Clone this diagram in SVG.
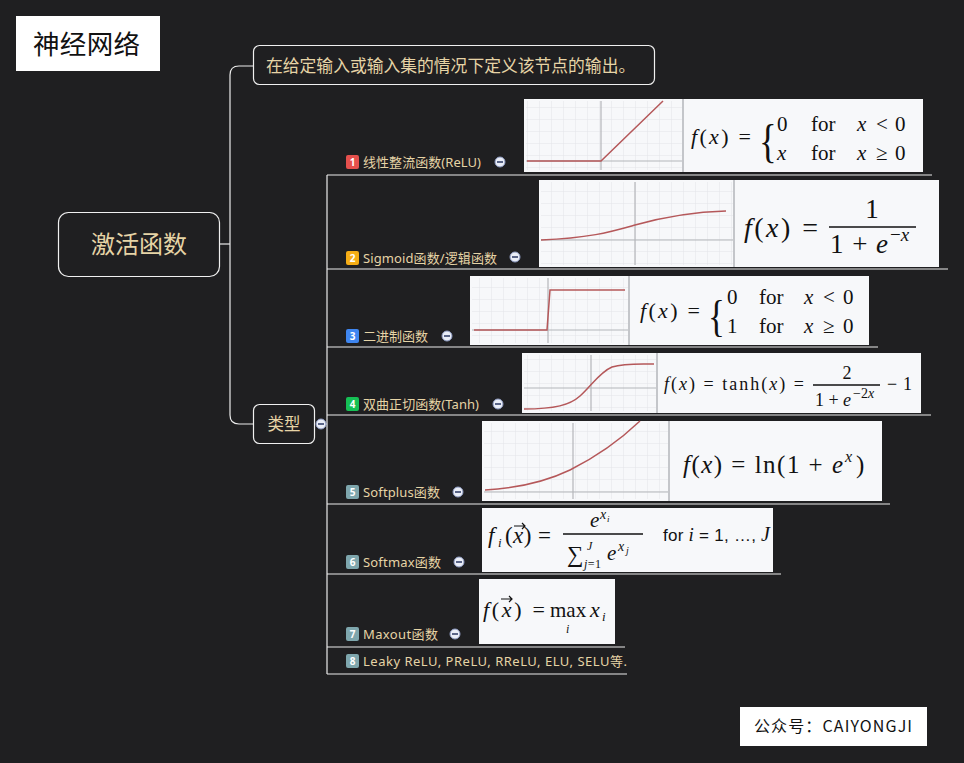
<svg xmlns="http://www.w3.org/2000/svg" width="964" height="763" viewBox="0 0 964 763">
<style>
.bg{fill:#1f1f21}
.conn{fill:none;stroke:#ececec;stroke-width:1.2}
.node{fill:#1f1f21;stroke:#f0f0f0;stroke-width:1.2}
.t{font-family:"Noto Sans CJK SC","Noto Sans",sans-serif;fill:#e6d4a6}
.lbl{font-family:"Noto Sans","Noto Sans CJK SC",sans-serif;font-size:13px;fill:#e6d4a6}
.badge-t{font-family:"Noto Sans","Liberation Sans",sans-serif;font-size:10px;font-weight:bold;fill:#fff;text-anchor:middle}
.axis{stroke:#b4b6ba;stroke-width:1.2}
.sep{stroke:#c4c6ca;stroke-width:2}
.curve{fill:none;stroke:#b5585a;stroke-width:1.5}
.m{font-family:"Liberation Serif","Times New Roman",serif;fill:#111}
.i{font-style:italic}
.frac{stroke:#111;stroke-width:1.3}
.col circle{fill:#e9edf7;stroke:#8e9bc2;stroke-width:1}
.col line{stroke:#34406a;stroke-width:1.6}
</style>
<defs>
<pattern id="grid" width="12" height="12" patternUnits="userSpaceOnUse">
<path d="M12 0V12M0 12H12" fill="none" stroke="#e3e5e9" stroke-width="1"/>
</pattern>
</defs>
<rect class="bg" x="0" y="0" width="964" height="763"/>

<g id="title">
<rect x="16" y="16" width="144" height="55" fill="#ffffff"/>
<text x="33" y="54" font-family="Noto Sans CJK SC,sans-serif" font-size="26.5" fill="#111" textLength="107">神经网络</text>
</g>

<g id="connectors">
<path class="conn" d="M219 244H230"/>
<path class="conn" d="M253 66H239Q230 66 230 75V415Q230 424 239 424H253"/>
<path class="conn" d="M326 424H327"/>
<path class="conn" d="M327 175V674"/>
<path class="conn" d="M327 175H932"/>
<path class="conn" d="M327 269H948"/>
<path class="conn" d="M327 347H878"/>
<path class="conn" d="M327 415H931"/>
<path class="conn" d="M327 504H890"/>
<path class="conn" d="M327 574H781"/>
<path class="conn" d="M327 647H625"/>
<path class="conn" d="M327 674H627"/>
</g>

<g id="root">
<rect class="node" x="58.5" y="212.5" width="161" height="64" rx="10"/>
<text class="t" x="139" y="253" font-size="24" text-anchor="middle">激活函数</text>
</g>

<g id="definition">
<rect class="node" x="253.5" y="45.5" width="401" height="39" rx="6"/>
<text class="t" x="266" y="72" font-size="16.8">在给定输入或输入集的情况下定义该节点的输出。</text>
</g>

<g id="types">
<rect class="node" x="253.5" y="404.5" width="61" height="39" rx="6"/>
<text class="t" x="284" y="430" font-size="16.5" text-anchor="middle">类型</text>
<g class="col"><circle cx="321" cy="424" r="5"/><line x1="318" y1="424" x2="324" y2="424"/></g>
</g>

<!-- 1 ReLU -->
<g id="relu">
<rect x="346" y="155" width="13" height="14" rx="2" fill="#e5504d"/>
<text class="badge-t" x="352.5" y="166">1</text>
<text class="lbl" x="363" y="167" textLength="118">线性整流函数(ReLU)</text>
<g class="col"><circle cx="500" cy="162" r="5"/><line x1="497" y1="162" x2="503" y2="162"/></g>
<rect x="524" y="99" width="399" height="73" fill="#f7f8fa"/>
<rect x="526" y="101" width="156" height="69" fill="url(#grid)"/>
<line class="axis" x1="601" y1="101" x2="601" y2="170"/>
<line class="axis" x1="526" y1="161" x2="682" y2="161"/>
<path class="curve" d="M527 161H601L663 101"/>
<line class="sep" x1="683" y1="99" x2="683" y2="172"/>
<text class="m" x="691" y="144" font-size="22" textLength="60"><tspan class="i">f</tspan>(<tspan class="i">x</tspan>) =</text>
<text class="m" x="759" y="157" font-size="46" transform="translate(759 157) scale(0.8 1) translate(-759 -157)">{</text>
<text class="m" font-size="21"><tspan x="777" y="131">0</tspan><tspan x="811" y="131">for</tspan><tspan x="857" y="131" class="i">x</tspan><tspan x="876" y="131">&lt;</tspan><tspan x="895" y="131">0</tspan></text>
<text class="m" font-size="21"><tspan x="777" y="160" class="i">x</tspan><tspan x="811" y="160">for</tspan><tspan x="857" y="160" class="i">x</tspan><tspan x="876" y="160">≥</tspan><tspan x="895" y="160">0</tspan></text>
</g>

<!-- 2 Sigmoid -->
<g id="sigmoid">
<rect x="346" y="251" width="13" height="14" rx="2" fill="#f5ad16"/>
<text class="badge-t" x="352.5" y="262">2</text>
<text class="lbl" x="363" y="263" textLength="134">Sigmoid函数/逻辑函数</text>
<g class="col"><circle cx="515" cy="257" r="5"/><line x1="512" y1="257" x2="518" y2="257"/></g>
<rect x="539" y="180" width="400" height="87" fill="#f7f8fa"/>
<rect x="541" y="182" width="192" height="83" fill="url(#grid)"/>
<line class="axis" x1="635" y1="182" x2="635" y2="265"/>
<line class="axis" x1="541" y1="240" x2="733" y2="240"/>
<path class="curve" d="M541 240C590 238 610 232 635 225C660 218 690 212 726 211"/>
<line class="sep" x1="734" y1="180" x2="734" y2="267"/>
<text class="m" x="744" y="237" font-size="28" textLength="74"><tspan class="i">f</tspan>(<tspan class="i">x</tspan>) =</text>
<text class="m" x="872" y="218" font-size="27" text-anchor="middle">1</text>
<line class="frac" x1="829" y1="227" x2="916" y2="227"/>
<text class="m" x="830" y="253" font-size="27" textLength="58">1 + <tspan class="i">e</tspan></text>
<text class="m" x="890" y="241" font-size="19">−<tspan class="i">x</tspan></text>
</g>

<!-- 3 Binary -->
<g id="binary">
<rect x="346" y="329" width="13" height="14" rx="2" fill="#3f86f0"/>
<text class="badge-t" x="352.5" y="340">3</text>
<text class="lbl" x="363" y="341" textLength="65">二进制函数</text>
<g class="col"><circle cx="447" cy="336" r="5"/><line x1="444" y1="336" x2="450" y2="336"/></g>
<rect x="470" y="276" width="399" height="69" fill="#f7f8fa"/>
<rect x="472" y="278" width="156" height="65" fill="url(#grid)"/>
<line class="axis" x1="548" y1="278" x2="548" y2="343"/>
<line class="axis" x1="472" y1="330" x2="628" y2="330"/>
<path class="curve" d="M474 330H547L550 290H625"/>
<line class="sep" x1="629" y1="276" x2="629" y2="345"/>
<text class="m" x="640" y="318" font-size="22" textLength="60"><tspan class="i">f</tspan>(<tspan class="i">x</tspan>) =</text>
<text class="m" x="708" y="331" font-size="44" transform="translate(708 331) scale(0.8 1) translate(-708 -331)">{</text>
<text class="m" font-size="21"><tspan x="727" y="304">0</tspan><tspan x="759" y="304">for</tspan><tspan x="804" y="304" class="i">x</tspan><tspan x="823" y="304">&lt;</tspan><tspan x="843" y="304">0</tspan></text>
<text class="m" font-size="21"><tspan x="727" y="333">1</tspan><tspan x="759" y="333">for</tspan><tspan x="804" y="333" class="i">x</tspan><tspan x="823" y="333">≥</tspan><tspan x="843" y="333">0</tspan></text>
</g>

<!-- 4 Tanh -->
<g id="tanh">
<rect x="346" y="397" width="13" height="14" rx="2" fill="#16c055"/>
<text class="badge-t" x="352.5" y="408">4</text>
<text class="lbl" x="363" y="409" textLength="116">双曲正切函数(Tanh)</text>
<g class="col"><circle cx="498" cy="404" r="5"/><line x1="495" y1="404" x2="501" y2="404"/></g>
<rect x="522" y="353" width="399" height="60" fill="#f7f8fa"/>
<rect x="524" y="355" width="132" height="56" fill="url(#grid)"/>
<line class="axis" x1="591" y1="355" x2="591" y2="411"/>
<line class="axis" x1="524" y1="388" x2="656" y2="388"/>
<path class="curve" d="M524 409C555 409 570 405 580 396C592 385 600 372 612 367C625 363 640 364 654 364"/>
<line class="sep" x1="657" y1="353" x2="657" y2="413"/>
<text class="m" x="664" y="390" font-size="18" textLength="140"><tspan class="i">f</tspan>(<tspan class="i">x</tspan>) = tanh(<tspan class="i">x</tspan>) =</text>
<text class="m" x="847" y="379" font-size="18" text-anchor="middle">2</text>
<line class="frac" x1="813" y1="385" x2="880" y2="385"/>
<text class="m" x="815" y="406" font-size="18" textLength="36">1 + <tspan class="i">e</tspan></text>
<text class="m" x="853" y="398" font-size="14">−2<tspan class="i">x</tspan></text>
<text class="m" x="887" y="390" font-size="18" textLength="25">− 1</text>
</g>

<!-- 5 Softplus -->
<g id="softplus">
<rect x="346" y="485" width="13" height="14" rx="2" fill="#7ea6ad"/>
<text class="badge-t" x="352.5" y="496">5</text>
<text class="lbl" x="363" y="497" textLength="77">Softplus函数</text>
<g class="col"><circle cx="458" cy="492" r="5"/><line x1="455" y1="492" x2="461" y2="492"/></g>
<rect x="482" y="421" width="400" height="80" fill="#f7f8fa"/>
<rect x="484" y="423" width="184" height="76" fill="url(#grid)"/>
<line class="axis" x1="573" y1="423" x2="573" y2="499"/>
<line class="axis" x1="484" y1="492" x2="668" y2="492"/>
<path class="curve" d="M485 490C520 488 545 482 570 470C600 455 620 440 640 421"/>
<line class="sep" x1="669" y1="421" x2="669" y2="501"/>
<text class="m" x="683" y="473" font-size="25" textLength="160"><tspan class="i">f</tspan>(<tspan class="i">x</tspan>) = ln(1 + <tspan class="i">e</tspan></text>
<text class="m i" x="845" y="462" font-size="16">x</text>
<text class="m" x="856" y="473" font-size="25">)</text>
</g>

<!-- 6 Softmax -->
<g id="softmax">
<rect x="346" y="555" width="13" height="14" rx="2" fill="#7ea6ad"/>
<text class="badge-t" x="352.5" y="566">6</text>
<text class="lbl" x="363" y="567" textLength="78">Softmax函数</text>
<g class="col"><circle cx="459" cy="562" r="5"/><line x1="456" y1="562" x2="462" y2="562"/></g>
<rect x="482" y="508" width="291" height="64" fill="#f7f8fa"/>
<text class="m i" x="488" y="543" font-size="23">f</text>
<text class="m i" x="498" y="547" font-size="13">i</text>
<text class="m" x="505" y="543" font-size="23" textLength="46">(<tspan class="i">x</tspan>) =</text>
<path d="M514 526H525M522 523L525 526L522 529" fill="none" stroke="#111" stroke-width="1.2"/>
<text class="m i" x="590" y="527" font-size="21">e</text>
<text class="m i" x="600" y="519" font-size="14">x</text>
<text class="m i" x="607" y="522" font-size="9">i</text>
<line class="frac" x1="563" y1="534" x2="643" y2="534"/>
<text class="m" x="567" y="562" font-size="23">∑</text>
<text class="m i" x="587" y="550" font-size="12">J</text>
<text class="m" x="584" y="568" font-size="12" textLength="17"><tspan class="i">j</tspan>=1</text>
<text class="m i" x="607" y="560" font-size="21">e</text>
<text class="m i" x="618" y="551" font-size="14">x</text>
<text class="m i" x="626" y="554" font-size="10">j</text>
<text font-family="Liberation Sans,Arial,sans-serif" font-size="17" fill="#111" x="663" y="541" textLength="107">for <tspan font-style="italic" font-family="Liberation Serif,serif" font-size="19">i</tspan> = 1, …, <tspan font-style="italic" font-family="Liberation Serif,serif" font-size="20">J</tspan></text>
</g>

<!-- 7 Maxout -->
<g id="maxout">
<rect x="346" y="627" width="13" height="14" rx="2" fill="#7ea6ad"/>
<text class="badge-t" x="352.5" y="638">7</text>
<text class="lbl" x="363" y="639" textLength="75">Maxout函数</text>
<g class="col"><circle cx="455" cy="634" r="5"/><line x1="452" y1="634" x2="458" y2="634"/></g>
<rect x="479" y="579" width="136" height="65" fill="#f7f8fa"/>
<text class="m" x="483" y="617" font-size="22" textLength="62"><tspan class="i">f</tspan>(<tspan class="i">x</tspan>) =</text>
<path d="M501 599H512M509 596L512 599L509 602" fill="none" stroke="#111" stroke-width="1.2"/>
<text class="m" x="550" y="617" font-size="21">max</text>
<text class="m i" x="590" y="617" font-size="22">x</text>
<text class="m i" x="602" y="621" font-size="13">i</text>
<text class="m i" x="566" y="633" font-size="12">i</text>
</g>

<!-- 8 Others -->
<g id="others">
<rect x="346" y="654" width="13" height="14" rx="2" fill="#7ea6ad"/>
<text class="badge-t" x="352.5" y="665">8</text>
<text class="lbl" x="363" y="666" textLength="264">Leaky ReLU, PReLU, RReLU, ELU, SELU等.</text>
</g>

<g id="watermark">
<rect x="740" y="707" width="187" height="39" fill="#ffffff"/>
<text x="754" y="732" font-family="Noto Sans CJK SC,sans-serif" font-size="16" fill="#111" textLength="158">公众号：CAIYONGJI</text>
</g>
</svg>
